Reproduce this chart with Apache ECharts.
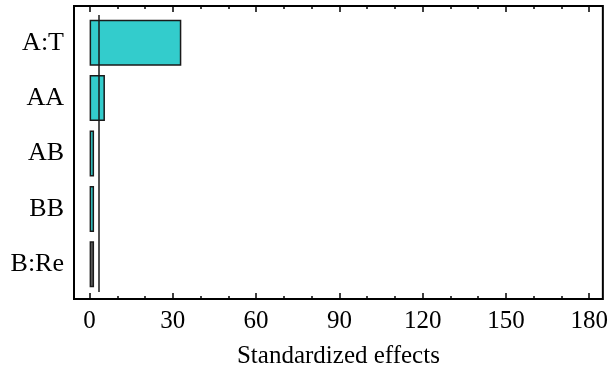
<!DOCTYPE html>
<html>
<head>
<meta charset="utf-8">
<script src="https://cdn.jsdelivr.net/npm/echarts@6/dist/echarts.min.js"></script>
<style>
html,body{margin:0;padding:0;background:#fff;}
#chart{width:611px;height:378px;}
</style>
</head>
<body>
<div id="chart"></div>
<script>
const categories = ['A:T', 'AA', 'AB', 'BB', 'B:Re'];
const effects = [32.9, 5.5, 1.6, 1.6, 1.6];
const barColors = ['#33CCCC', '#33CCCC', '#33CCCC', '#33CCCC', '#606060'];
const refValue = 3.1;
const majorTicks = [0, 30, 60, 90, 120, 150, 180];
const minorTicks = [10, 20, 40, 50, 70, 80, 100, 110, 130, 140, 160, 170];
const xMin = -5.6, xMax = 184.9;

const font = 'Liberation Serif';
const chart = echarts.init(document.getElementById('chart'), null, {renderer: 'canvas'});

function tickAxis(pos, values, len, labels) {
  return {
    gridIndex: 1, type: 'value', position: pos, min: xMin, max: xMax,
    axisLine: {show: false},
    splitLine: {show: false},
    axisTick: {show: true, inside: true, length: len, customValues: values,
      lineStyle: {color: '#000', width: 1.5}},
    axisLabel: labels ? {show: true, customValues: values, fontFamily: font, fontSize: 25,
      color: '#000', margin: 10} : {show: false},
    name: labels ? 'Standardized effects' : '',
    nameLocation: 'middle', nameGap: 45,
    nameTextStyle: {fontFamily: font, fontSize: 25, color: '#000'}
  };
}

chart.setOption({
  animation: false,
  backgroundColor: '#fff',
  grid: [
    {left: 74, right: 6, top: 15, bottom: 86},
    {left: 74, right: 6, top: 6, bottom: 79, show: true, borderColor: '#000', borderWidth: 2,
      backgroundColor: 'transparent'}
  ],
  xAxis: [
    {gridIndex: 0, type: 'value', min: xMin, max: xMax, show: false},
    tickAxis('bottom', majorTicks, 6, true),
    tickAxis('bottom', minorTicks, 3, false),
    tickAxis('top', majorTicks, 6, false),
    tickAxis('top', minorTicks, 3, false)
  ],
  yAxis: [
    {gridIndex: 0, type: 'category', data: categories, inverse: true,
      axisLine: {show: false}, axisTick: {show: false}, splitLine: {show: false},
      axisLabel: {fontFamily: font, fontSize: 26, color: '#000', margin: 10}},
    {gridIndex: 1, type: 'value', show: false}
  ],
  series: [{
    type: 'bar', xAxisIndex: 0, yAxisIndex: 0,
    barWidth: '83%',
    data: effects.map((v, i) => ({value: v, itemStyle: {color: barColors[i]}})),
    itemStyle: {borderColor: '#1a1a1a', borderWidth: 1.5},
    markLine: {
      silent: true, symbol: 'none', label: {show: false},
      lineStyle: {color: '#1a1a1a', width: 1.5, type: 'solid'},
      data: [{xAxis: refValue}]
    }
  }]
});
</script>
</body>
</html>
